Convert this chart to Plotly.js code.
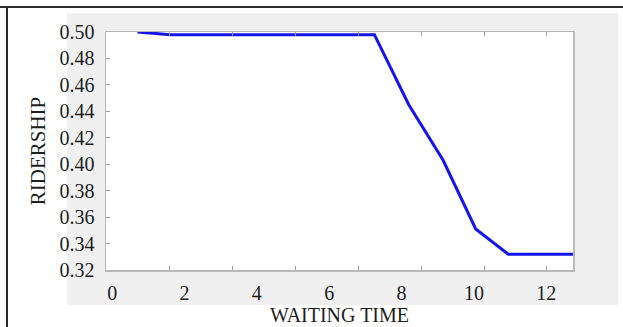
<!DOCTYPE html>
<html>
<head>
<meta charset="utf-8">
<script src="https://cdn.plot.ly/plotly-3.0.1.min.js"></script>
<style>
  html, body { margin: 0; padding: 0; background: #ffffff; overflow: hidden; }
  #wrap { position: relative; width: 623px; height: 327px; overflow: hidden; background: #ffffff; }
  #gray { position: absolute; left: 67px; top: 13px; width: 551px; height: 292px; background: #f0f0f0; }
  #topline { position: absolute; left: 0; top: 6px; width: 623px; height: 2px; background: #2a2a2a; }
  #leftline { position: absolute; left: 6px; top: 6px; width: 2px; height: 321px; background: #2a2a2a; }
  #chart { position: absolute; left: 0; top: 0; width: 623px; height: 345px; }
</style>
</head>
<body>
<div id="wrap">
  <div id="gray"></div>
  <div id="topline"></div>
  <div id="leftline"></div>
  <div id="chart"></div>
</div>
<script>
// Data
const waitingTime = [0.7, 1.6, 7.25, 8.2, 9.15, 10.05, 10.95, 12.75];
const ridership   = [0.50, 0.498, 0.498, 0.445, 0.403, 0.351, 0.332, 0.332];

const xTickVals = [0, 2, 4, 6, 8, 10, 12];
const xTickText = ['0', '2', '4', '6', '8', '10', '12'];
const yTickVals = [0.32, 0.34, 0.36, 0.38, 0.40, 0.42, 0.44, 0.46, 0.48, 0.50];
const yTickText = ['0.32', '0.34', '0.36', '0.38', '0.40', '0.42', '0.44', '0.46', '0.48', '0.50'];

const serif = '"Liberation Serif", "Times New Roman", serif';

const trace = {
  x: waitingTime,
  y: ridership,
  type: 'scatter',
  mode: 'lines',
  line: { color: '#1414f0', width: 3 },
  hoverinfo: 'skip'
};

const layout = {
  width: 623,
  height: 345,
  margin: { l: 106, r: 50, t: 32, b: 75 },
  paper_bgcolor: 'rgba(0,0,0,0)',
  plot_bgcolor: '#ffffff',
  showlegend: false,
  font: { family: serif, color: '#1e1e1e' },
  xaxis: {
    range: [-0.17, 12.74],
    tickmode: 'array',
    tickvals: xTickVals,
    ticktext: xTickText,
    ticks: 'inside',
    ticklen: 0,
    ticklabelstandoff: 4,
    tickfont: { family: serif, size: 20, color: '#1e1e1e' },
    minor: { ticks: 'inside', ticklen: 4, tickcolor: '#a0a0a0', tickwidth: 1, tick0: 1.575, dtick: 1.741, tickmode: 'linear' },
    showgrid: false,
    zeroline: false,
    showline: true,
    linecolor: '#b8b8b8',
    linewidth: 1.5,
    mirror: 'ticks',
    title: { text: 'WAITING TIME', font: { family: serif, size: 20, color: '#1e1e1e' }, standoff: 5 }
  },
  yaxis: {
    range: [0.32, 0.50],
    tickmode: 'array',
    tickvals: yTickVals,
    ticktext: yTickText,
    ticks: 'inside',
    ticklen: 4,
    tickcolor: '#a0a0a0',
    ticklabelstandoff: 6,
    tickfont: { family: serif, size: 20, color: '#1e1e1e' },
    showgrid: false,
    zeroline: false,
    showline: true,
    linecolor: '#b8b8b8',
    linewidth: 1.5,
    mirror: true,
    title: { text: 'RIDERSHIP', font: { family: serif, size: 21, color: '#1e1e1e' }, standoff: 8 }
  }
};

Plotly.newPlot('chart', [trace], layout, { displayModeBar: false, staticPlot: true });
</script>
</body>
</html>
